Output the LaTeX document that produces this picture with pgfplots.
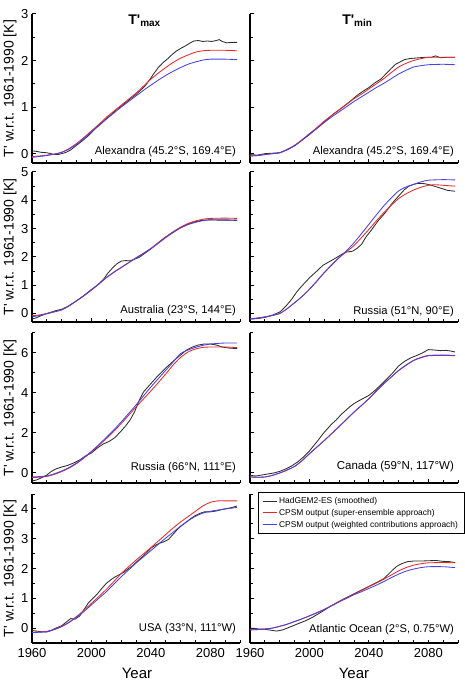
\documentclass[border=0pt]{standalone}
\usepackage{pgfplots}
\pgfplotsset{compat=1.18}
\usepackage{fontspec}
\setmainfont{Liberation Sans}
\definecolor{hgc}{RGB}{45,45,45}
\definecolor{rc}{RGB}{235,40,40}
\definecolor{bc}{RGB}{70,65,230}
\tikzset{loc/.style={anchor=east, font=\fontsize{11.2}{13}\selectfont}}
\pgfplotsset{legend image code/.code={\draw[#1] (0pt,0pt) -- (11pt,0pt); \path (0pt,0pt) -- (14pt,0pt);}}
\pgfplotsset{
  base/.style={scale only axis, width=208pt, xmin=1960, xmax=2100,
    axis lines=left, axis line style={-, line width=1.2pt, black},
    tick align=inside, major tick length=3.5pt, minor tick length=3pt,
    tick style={black, line width=1pt},
    xtick={1960,2000,2040,2080},
    minor xtick={1970,1980,1990,2010,2020,2030,2050,2060,2070,2090,2100},
    xticklabels={}, clip=false, anchor=south west,
    tick label style={font=\fontsize{13}{15}\selectfont},
    xticklabel style={yshift=-2pt},
    every axis plot/.append style={line width=0.85pt, line join=round}},
  hg/.style={color=hgc, draw=hgc, no markers},
  cr/.style={color=rc, draw=rc, smooth, tension=0.4, no markers},
  cb/.style={color=bc, draw=bc, smooth, tension=0.4, no markers},
  row1/.style={height=149pt, ymin=-0.2, ymax=3, ytick={0,1,2,3}, minor ytick={0.5,1.5,2.5}},
  row2/.style={height=150pt, ymin=-0.3, ymax=5, ytick={0,1,2,3,4,5}, minor ytick={0.5,1.5,2.5,3.5,4.5}},
  row3/.style={height=150pt, ymin=-0.5, ymax=7, ytick={0,2,4,6}, minor ytick={1,3,5,7}},
  row4/.style={height=149pt, ymin=-0.5, ymax=4.5, ytick={0,1,2,3,4}, minor ytick={0.5,1.5,2.5,3.5,4.5}},
}
\begin{document}
\begin{tikzpicture}
\useasboundingbox (0,0) rectangle (465pt,687pt);
% ---------------- Row 1 ----------------
\begin{axis}[base, row1, at={(32pt,524pt)}, yticklabels={0,1,2,3}]
\addplot[hg] coordinates {(1960,0.06)(1963,0.05)(1966,0.03)(1970,0.02)(1974,-0.01)(1977,-0.02)(1980,0.0)(1983,0.03)(1986,0.08)(1990,0.18)(1994,0.28)(1997,0.36)(2000,0.45)(2004,0.58)(2007,0.67)(2010,0.75)(2014,0.86)(2017,0.95)(2020,1.02)(2024,1.12)(2027,1.2)(2030,1.27)(2033,1.36)(2036,1.45)(2039,1.58)(2042,1.72)(2045,1.85)(2048,1.95)(2051,2.03)(2054,2.12)(2057,2.2)(2060,2.26)(2063,2.31)(2066,2.37)(2069,2.42)(2072,2.43)(2075,2.41)(2078,2.42)(2081,2.41)(2084,2.43)(2086,2.45)(2088,2.41)(2091,2.38)(2094,2.39)(2098,2.39)};
\addplot[cr] coordinates {(1960,-0.06)(1965,-0.05)(1970,-0.03)(1975,-0.01)(1980,0.03)(1985,0.11)(1990,0.22)(1995,0.35)(2000,0.49)(2005,0.63)(2010,0.78)(2015,0.91)(2020,1.04)(2025,1.17)(2030,1.30)(2035,1.45)(2040,1.60)(2045,1.73)(2050,1.85)(2055,1.96)(2060,2.05)(2065,2.12)(2070,2.18)(2075,2.21)(2080,2.22)(2090,2.22)(2098,2.21)};
\addplot[cb] coordinates {(1960,-0.08)(1965,-0.06)(1970,-0.04)(1975,-0.01)(1980,0.03)(1985,0.1)(1990,0.2)(1995,0.33)(2000,0.47)(2005,0.6)(2010,0.74)(2015,0.87)(2020,1.0)(2025,1.12)(2030,1.24)(2035,1.36)(2040,1.47)(2045,1.58)(2050,1.68)(2055,1.77)(2060,1.85)(2065,1.92)(2070,1.97)(2075,2.01)(2080,2.03)(2090,2.03)(2098,2.02)};
\node[loc] at (rel axis cs:0.997,0.074) {Alexandra (45.2°S, 169.4°E)};
\node[font=\fontsize{14}{16}\selectfont\bfseries] at (rel axis cs:0.54,0.955) {T\textquotesingle\raisebox{-0.35ex}{\fontsize{10}{11}\selectfont max}};
\end{axis}
\begin{axis}[base, row1, at={(250pt,524pt)}, yticklabels={}]
\addplot[hg] coordinates {(1960,-0.02)(1965,-0.03)(1970,0.0)(1975,0.01)(1980,0.02)(1985,0.08)(1990,0.17)(1995,0.29)(2000,0.41)(2004,0.52)(2008,0.63)(2012,0.74)(2016,0.85)(2020,0.94)(2024,1.04)(2028,1.14)(2032,1.25)(2036,1.34)(2040,1.42)(2044,1.52)(2048,1.6)(2052,1.73)(2055,1.83)(2058,1.92)(2061,1.97)(2064,2.02)(2067,2.04)(2070,2.05)(2074,2.06)(2078,2.07)(2082,2.07)(2085,2.1)(2088,2.06)(2092,2.07)(2098,2.07)};
\addplot[cr] coordinates {(1960,-0.05)(1965,-0.04)(1970,-0.02)(1975,0.0)(1980,0.02)(1985,0.09)(1990,0.18)(1995,0.3)(2000,0.43)(2005,0.56)(2010,0.7)(2015,0.82)(2020,0.94)(2025,1.06)(2030,1.18)(2035,1.28)(2040,1.39)(2045,1.5)(2050,1.61)(2055,1.74)(2060,1.86)(2065,1.94)(2070,2.0)(2075,2.04)(2080,2.07)(2090,2.07)(2098,2.07)};
\addplot[cb] coordinates {(1960,-0.05)(1965,-0.04)(1970,-0.02)(1975,0.0)(1980,0.02)(1985,0.09)(1990,0.17)(1995,0.29)(2000,0.42)(2005,0.54)(2010,0.67)(2015,0.79)(2020,0.9)(2025,1.01)(2030,1.12)(2035,1.22)(2040,1.32)(2045,1.42)(2050,1.51)(2055,1.61)(2060,1.71)(2065,1.79)(2070,1.86)(2075,1.89)(2080,1.91)(2090,1.92)(2098,1.91)};
\node[loc] at (rel axis cs:0.997,0.074) {Alexandra (45.2°S, 169.4°E)};
\node[font=\fontsize{14}{16}\selectfont\bfseries] at (rel axis cs:0.515,0.955) {T\textquotesingle\raisebox{-0.35ex}{\fontsize{10}{11}\selectfont min}};
\end{axis}
% ---------------- Row 2 ----------------
\begin{axis}[base, row2, at={(32pt,365pt)}, yticklabels={0,1,2,3,4,5}]
\addplot[hg] coordinates {(1960,-0.2)(1963,-0.15)(1966,-0.08)(1970,0.0)(1973,0.05)(1976,0.1)(1980,0.15)(1984,0.25)(1988,0.38)(1992,0.52)(1996,0.68)(2000,0.85)(2004,1.0)(2008,1.2)(2011,1.42)(2014,1.6)(2017,1.75)(2020,1.85)(2023,1.87)(2026,1.86)(2029,1.92)(2032,1.98)(2036,2.13)(2040,2.28)(2044,2.46)(2048,2.63)(2052,2.78)(2056,2.92)(2060,3.04)(2064,3.14)(2068,3.22)(2072,3.27)(2076,3.3)(2080,3.31)(2085,3.3)(2090,3.3)(2098,3.29)};
\addplot[cr] coordinates {(1960,-0.08)(1965,-0.05)(1970,0.0)(1975,0.06)(1980,0.13)(1985,0.27)(1990,0.45)(1995,0.63)(2000,0.83)(2005,1.05)(2010,1.27)(2015,1.46)(2020,1.63)(2025,1.8)(2030,1.97)(2035,2.13)(2040,2.3)(2045,2.5)(2050,2.7)(2055,2.88)(2060,3.05)(2065,3.18)(2070,3.27)(2075,3.33)(2080,3.36)(2090,3.37)(2098,3.36)};
\addplot[cb] coordinates {(1960,-0.12)(1965,-0.07)(1970,-0.01)(1975,0.06)(1980,0.13)(1985,0.27)(1990,0.45)(1995,0.63)(2000,0.83)(2005,1.04)(2010,1.26)(2015,1.45)(2020,1.62)(2025,1.79)(2030,1.96)(2035,2.12)(2040,2.29)(2045,2.48)(2050,2.68)(2055,2.86)(2060,3.02)(2065,3.14)(2070,3.22)(2075,3.28)(2080,3.31)(2090,3.31)(2098,3.3)};
\node[loc] at (rel axis cs:0.997,0.073) {Australia (23°S, 144°E)};
\end{axis}
\begin{axis}[base, row2, at={(250pt,365pt)}, yticklabels={}]
\addplot[hg] coordinates {(1960,-0.2)(1965,-0.18)(1970,-0.14)(1975,-0.06)(1980,0.05)(1984,0.25)(1988,0.5)(1991,0.73)(1995,0.98)(2000,1.26)(2005,1.5)(2009,1.7)(2013,1.82)(2018,1.97)(2022,2.1)(2025,2.17)(2029,2.2)(2032,2.3)(2035,2.44)(2038,2.7)(2042,2.97)(2046,3.26)(2051,3.56)(2055,3.85)(2060,4.15)(2064,4.38)(2067,4.5)(2070,4.56)(2073,4.6)(2077,4.59)(2080,4.56)(2084,4.5)(2087,4.45)(2090,4.4)(2093,4.35)(2098,4.32)};
\addplot[cr] coordinates {(1960,-0.19)(1965,-0.16)(1970,-0.12)(1975,-0.07)(1980,0.0)(1985,0.17)(1990,0.38)(1995,0.6)(2000,0.85)(2005,1.14)(2010,1.44)(2015,1.71)(2020,1.97)(2025,2.19)(2030,2.4)(2035,2.68)(2040,2.97)(2045,3.27)(2050,3.56)(2055,3.82)(2060,4.06)(2065,4.23)(2070,4.36)(2075,4.46)(2080,4.53)(2085,4.55)(2090,4.53)(2098,4.5)};
\addplot[cb] coordinates {(1960,-0.19)(1965,-0.16)(1970,-0.12)(1975,-0.07)(1980,0.0)(1985,0.17)(1990,0.38)(1995,0.6)(2000,0.86)(2005,1.15)(2010,1.45)(2015,1.72)(2020,1.98)(2025,2.22)(2030,2.5)(2035,2.82)(2040,3.15)(2045,3.48)(2050,3.8)(2055,4.08)(2060,4.33)(2065,4.47)(2070,4.56)(2075,4.65)(2080,4.71)(2090,4.73)(2098,4.72)};
\node[loc] at (rel axis cs:0.997,0.07) {Russia (51°N, 90°E)};
\end{axis}
% ---------------- Row 3 ----------------
\begin{axis}[base, row3, at={(32pt,204pt)}, yticklabels={0,2,4,6}]
\addplot[hg] coordinates {(1960,-0.4)(1963,-0.35)(1966,-0.25)(1970,-0.1)(1973,0.08)(1976,0.2)(1980,0.3)(1984,0.38)(1988,0.5)(1992,0.65)(1996,0.85)(2000,1.0)(2004,1.25)(2008,1.45)(2012,1.58)(2016,1.78)(2020,2.1)(2023,2.35)(2026,2.65)(2029,3.05)(2032,3.6)(2035,4.05)(2038,4.3)(2041,4.55)(2044,4.8)(2047,5.02)(2050,5.25)(2053,5.45)(2056,5.65)(2060,5.9)(2064,6.15)(2068,6.3)(2072,6.4)(2076,6.45)(2080,6.45)(2084,6.4)(2088,6.3)(2092,6.25)(2098,6.22)};
\addplot[cr] coordinates {(1960,-0.23)(1965,-0.21)(1970,-0.17)(1975,-0.07)(1980,0.07)(1985,0.25)(1990,0.47)(1995,0.75)(2000,1.05)(2005,1.38)(2010,1.72)(2015,2.08)(2020,2.47)(2025,2.88)(2030,3.3)(2035,3.7)(2040,4.1)(2045,4.52)(2050,4.95)(2055,5.4)(2060,5.78)(2065,6.05)(2070,6.2)(2075,6.28)(2080,6.3)(2090,6.3)(2098,6.27)};
\addplot[cb] coordinates {(1960,-0.2)(1965,-0.18)(1970,-0.15)(1975,-0.04)(1980,0.1)(1985,0.28)(1990,0.5)(1995,0.78)(2000,1.08)(2005,1.42)(2010,1.78)(2015,2.15)(2020,2.55)(2025,2.97)(2030,3.4)(2035,3.85)(2040,4.3)(2045,4.72)(2050,5.13)(2055,5.55)(2060,5.97)(2065,6.15)(2070,6.28)(2075,6.38)(2080,6.45)(2090,6.5)(2098,6.5)};
\node[loc] at (rel axis cs:0.997,0.10) {Russia (66°N, 111°E)};
\end{axis}
\begin{axis}[base, row3, at={(250pt,204pt)}, yticklabels={}]
\addplot[hg] coordinates {(1960,-0.12)(1964,-0.15)(1968,-0.1)(1972,-0.05)(1976,0.0)(1980,0.08)(1984,0.2)(1988,0.35)(1992,0.55)(1996,0.8)(2000,1.1)(2003,1.38)(2006,1.65)(2009,1.95)(2012,2.2)(2015,2.45)(2018,2.65)(2021,2.9)(2024,3.1)(2027,3.3)(2030,3.47)(2033,3.6)(2036,3.72)(2040,3.88)(2044,4.12)(2048,4.4)(2052,4.7)(2056,5.0)(2060,5.35)(2064,5.58)(2068,5.75)(2072,5.87)(2076,6.0)(2080,6.17)(2084,6.15)(2088,6.12)(2092,6.13)(2095,6.1)(2098,6.05)};
\addplot[cr] coordinates {(1960,-0.2)(1965,-0.21)(1970,-0.2)(1975,-0.12)(1980,0.0)(1985,0.15)(1990,0.33)(1995,0.62)(2000,0.97)(2005,1.3)(2010,1.63)(2015,1.98)(2020,2.33)(2025,2.69)(2030,3.05)(2035,3.38)(2040,3.72)(2045,4.1)(2050,4.47)(2055,4.8)(2060,5.13)(2065,5.4)(2070,5.63)(2075,5.78)(2080,5.88)(2090,5.9)(2098,5.88)};
\addplot[cb] coordinates {(1960,-0.2)(1965,-0.21)(1970,-0.2)(1975,-0.12)(1980,0.0)(1985,0.15)(1990,0.33)(1995,0.61)(2000,0.96)(2005,1.29)(2010,1.62)(2015,1.97)(2020,2.32)(2025,2.68)(2030,3.04)(2035,3.37)(2040,3.71)(2045,4.09)(2050,4.46)(2055,4.79)(2060,5.12)(2065,5.38)(2070,5.62)(2075,5.76)(2080,5.86)(2090,5.88)(2098,5.86)};
\node[loc, font=\fontsize{11.5}{13}\selectfont] at (rel axis cs:0.997,0.107) {Canada (59°N, 117°W)};
\end{axis}
% ---------------- Row 4 ----------------
\begin{axis}[base, row4, at={(32pt,44pt)}, yticklabels={0,1,2,3,4}, xticklabels={1960,2000,2040,2080}]
\addplot[hg] coordinates {(1960,-0.08)(1963,-0.1)(1966,-0.12)(1970,-0.13)(1973,-0.08)(1976,0.0)(1980,0.08)(1983,0.2)(1986,0.32)(1989,0.3)(1992,0.4)(1995,0.62)(1998,0.85)(2001,1.0)(2004,1.15)(2007,1.33)(2010,1.5)(2013,1.62)(2016,1.72)(2019,1.8)(2022,1.88)(2025,2.0)(2028,2.1)(2031,2.25)(2034,2.38)(2037,2.52)(2040,2.68)(2043,2.78)(2046,2.85)(2049,2.9)(2052,2.98)(2055,3.15)(2058,3.32)(2061,3.45)(2064,3.56)(2067,3.68)(2070,3.78)(2073,3.85)(2076,3.9)(2080,3.9)(2084,3.93)(2088,3.98)(2092,4.02)(2095,4.05)(2098,4.1)};
\addplot[cr] coordinates {(1960,-0.14)(1965,-0.13)(1970,-0.11)(1975,-0.04)(1980,0.06)(1985,0.2)(1990,0.39)(1995,0.6)(2000,0.83)(2005,1.06)(2010,1.3)(2015,1.56)(2020,1.83)(2025,2.06)(2030,2.28)(2035,2.49)(2040,2.7)(2045,2.92)(2050,3.14)(2055,3.36)(2060,3.56)(2065,3.74)(2070,3.92)(2075,4.1)(2080,4.22)(2085,4.27)(2090,4.27)(2098,4.27)};
\addplot[cb] coordinates {(1960,-0.15)(1965,-0.14)(1970,-0.12)(1975,-0.05)(1980,0.05)(1985,0.19)(1990,0.37)(1995,0.56)(2000,0.78)(2005,1.0)(2010,1.22)(2015,1.47)(2020,1.72)(2025,1.95)(2030,2.18)(2035,2.39)(2040,2.6)(2045,2.81)(2050,3.02)(2055,3.22)(2060,3.42)(2065,3.6)(2070,3.75)(2075,3.86)(2080,3.92)(2085,3.96)(2090,4.0)(2095,4.03)(2098,4.05)};
\node[loc] at (rel axis cs:0.997,0.094) {USA (33°N, 111°W)};
\end{axis}
\begin{axis}[base, row4, at={(250pt,44pt)}, yticklabels={}, xticklabels={1960,2000,2040,2080},
  legend style={at={(0.0385,1.013)}, anchor=north west, fill=white,
    font=\fontsize{8.4}{10}\selectfont, row sep=0.3pt, inner xsep=4pt, inner ysep=3pt},
  legend cell align=left, legend image post style={line width=0.9pt}]
\addplot[hg] coordinates {(1960,0.0)(1963,-0.01)(1966,-0.03)(1970,-0.04)(1974,-0.07)(1978,-0.1)(1982,-0.06)(1986,0.02)(1990,0.1)(1994,0.18)(1998,0.26)(2002,0.36)(2006,0.48)(2010,0.6)(2014,0.73)(2018,0.84)(2022,0.95)(2026,1.05)(2030,1.15)(2034,1.25)(2038,1.35)(2042,1.45)(2046,1.55)(2050,1.66)(2053,1.8)(2056,1.95)(2059,2.08)(2062,2.16)(2066,2.23)(2070,2.25)(2075,2.25)(2080,2.26)(2085,2.27)(2090,2.24)(2094,2.23)(2098,2.2)};
\addlegendentry{HadGEM2-ES (smoothed)}
\addplot[cr] coordinates {(1960,-0.06)(1965,-0.05)(1970,-0.03)(1975,0.0)(1980,0.06)(1985,0.13)(1990,0.22)(1995,0.31)(2000,0.41)(2005,0.52)(2010,0.63)(2015,0.76)(2020,0.89)(2025,1.01)(2030,1.14)(2035,1.26)(2040,1.39)(2045,1.51)(2050,1.64)(2055,1.78)(2060,1.92)(2065,2.03)(2070,2.11)(2075,2.16)(2080,2.19)(2090,2.2)(2098,2.19)};
\addlegendentry{CPSM output (super-ensemble approach)}
\addplot[cb] coordinates {(1960,-0.06)(1965,-0.05)(1970,-0.03)(1975,0.0)(1980,0.06)(1985,0.13)(1990,0.22)(1995,0.31)(2000,0.41)(2005,0.51)(2010,0.62)(2015,0.75)(2020,0.88)(2025,1.0)(2030,1.12)(2035,1.22)(2040,1.33)(2045,1.44)(2050,1.56)(2055,1.69)(2060,1.81)(2065,1.91)(2070,1.98)(2075,2.03)(2080,2.06)(2090,2.06)(2098,2.03)};
\addlegendentry{CPSM output (weighted contributions approach)}
\node[loc] at (rel axis cs:0.997,0.087) {Atlantic Ocean (2°S, 0.75°W)};
\end{axis}
% ---------------- outer labels ----------------
\foreach \yy in {598.5,440,279,118.5} {
  \node[rotate=90, font=\fontsize{14}{16}\selectfont] at (10pt,\yy pt) {T\textquotesingle{} w.r.t. 1961-1990 [K]};
}
\node[font=\fontsize{15}{17}\selectfont] at (137pt,14pt) {Year};
\node[font=\fontsize{15}{17}\selectfont] at (354pt,14pt) {Year};
\end{tikzpicture}
\end{document}
